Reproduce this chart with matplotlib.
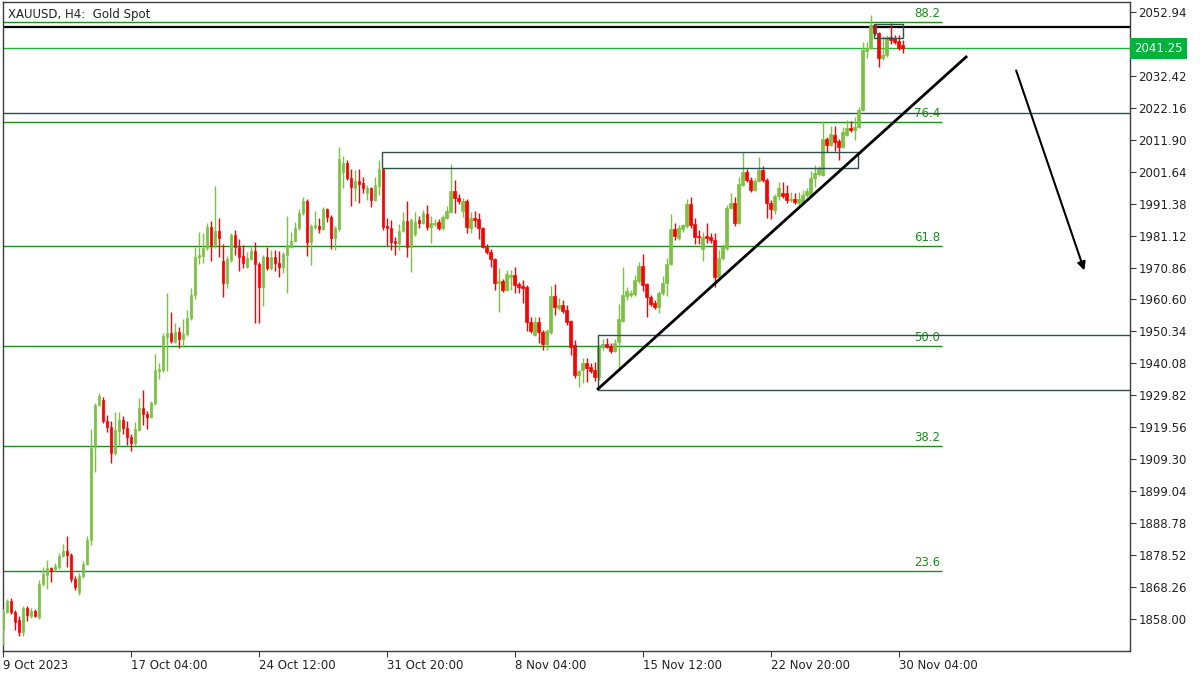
import matplotlib
matplotlib.use('Agg')
import matplotlib.pyplot as plt
import matplotlib.transforms as mtransforms
from matplotlib.patches import Rectangle

# XAUUSD H4 candles, 9 Oct - 30 Nov 2023
opens = [
    1854.5, 1860.3, 1863.8, 1860.3, 1857.7, 1853.8, 1861.5, 1859.0, 1860.6, 1858.7,
    1869.3, 1872.1, 1874.4, 1874.1, 1874.7, 1878.2, 1879.9, 1878.6, 1870.9, 1866.7,
    1871.8, 1875.7, 1883.4, 1913.2, 1926.7, 1928.3, 1921.6, 1919.7, 1911.3, 1918.4,
    1921.9, 1919.4, 1916.5, 1914.5, 1918.7, 1925.8, 1923.8, 1922.9, 1927.4, 1937.7,
    1938.0, 1948.6, 1949.9, 1947.0, 1950.2, 1947.9, 1949.5, 1954.7, 1962.1, 1974.3,
    1974.6, 1977.2, 1983.9, 1978.1, 1982.6, 1973.0, 1965.9, 1973.3, 1981.3, 1977.5,
    1974.6, 1971.1, 1973.6, 1976.2, 1972.0, 1964.6, 1974.3, 1970.7, 1974.3, 1972.3,
    1971.1, 1974.9, 1977.5, 1979.4, 1983.6, 1988.4, 1992.2, 1979.1, 1983.9, 1984.2,
    1983.3, 1989.7, 1987.1, 1980.4, 1983.3, 2001.6, 2004.5, 1999.6, 1996.4, 1998.7,
    1998.0, 1994.8, 1996.4, 1992.6, 1997.1, 2002.5, 1984.2, 1983.6, 1979.4, 1978.8,
    1982.6, 1985.8, 1977.5, 1981.7, 1986.1, 1985.2, 1988.1, 1983.9, 1984.9, 1985.5,
    1983.6, 1986.8, 1988.7, 1995.5, 1993.2, 1989.0, 1992.2, 1983.6, 1986.8, 1986.5,
    1983.6, 1977.5, 1975.9, 1973.6, 1965.9, 1966.6, 1963.7, 1967.8, 1968.5, 1965.6,
    1965.0, 1964.6, 1953.4, 1949.2, 1953.4, 1950.2, 1946.3, 1950.2, 1961.7, 1957.9,
    1958.9, 1957.2, 1953.7, 1946.0, 1936.4, 1938.0, 1940.2, 1938.9, 1938.0, 1935.7,
    1945.4, 1946.3, 1945.7, 1944.1, 1947.0, 1953.7, 1961.7, 1962.1, 1962.4, 1966.6,
    1971.4, 1965.6, 1961.4, 1959.5, 1958.2, 1962.7, 1965.9, 1972.0, 1983.3, 1980.4,
    1983.3, 1984.2, 1991.3, 1984.9, 1981.0, 1976.8, 1981.0, 1980.7, 1979.7, 1967.8,
    1973.9, 1977.2, 1990.0, 1991.6, 1985.2, 1997.4, 2001.6, 1999.0, 1995.8, 1998.7,
    2002.2, 1999.0, 1991.6, 1989.4, 1993.9, 1994.8, 1994.8, 1992.6, 1992.9, 1991.6,
    1991.9, 1994.2, 1994.2, 1999.6, 2000.9, 2000.6, 2012.2, 2010.2, 2013.4, 2011.5,
    2009.6, 2013.4, 2015.7, 2015.0, 2016.0, 2021.5, 2040.4, 2041.4, 2048.8, 2046.2,
    2038.2, 2039.1, 2044.9, 2044.6, 2043.6, 2042.3,
]
highs = [
    1861.2, 1864.4, 1864.8, 1860.9, 1859.0, 1862.2, 1862.2, 1861.5, 1861.2, 1870.5,
    1874.7, 1877.0, 1874.7, 1876.0, 1879.2, 1882.1, 1884.7, 1879.2, 1871.8, 1872.8,
    1876.6, 1884.7, 1919.0, 1927.4, 1930.6, 1929.3, 1923.5, 1921.6, 1924.5, 1924.5,
    1923.2, 1921.6, 1917.4, 1921.3, 1929.0, 1931.6, 1924.8, 1928.0, 1943.1, 1940.2,
    1949.9, 1962.7, 1956.6, 1953.1, 1951.8, 1954.4, 1957.2, 1964.3, 1977.5, 1982.3,
    1982.0, 1985.2, 1985.8, 1997.1, 1986.8, 1978.4, 1974.6, 1982.0, 1982.9, 1980.0,
    1978.1, 1975.9, 1978.1, 1979.1, 1972.7, 1974.9, 1977.5, 1976.5, 1976.5, 1976.2,
    1975.9, 1987.4, 1982.3, 1985.5, 1989.7, 1993.5, 1992.9, 1984.9, 1989.0, 1986.8,
    1990.3, 1990.0, 1987.8, 1984.2, 2009.6, 2006.7, 2005.4, 2002.5, 2002.2, 2002.5,
    2000.0, 1997.4, 1996.7, 2000.0, 2005.4, 2002.8, 1986.8, 1986.1, 1980.7, 1984.9,
    1988.7, 1992.2, 1986.8, 1988.7, 1987.4, 1989.4, 1991.0, 1987.4, 1986.5, 1986.5,
    1987.8, 1990.6, 2004.1, 1999.0, 1994.5, 1993.2, 1992.9, 1988.7, 1989.0, 1988.4,
    1983.9, 1978.4, 1976.8, 1973.9, 1970.7, 1967.2, 1970.1, 1970.1, 1971.1, 1966.2,
    1966.9, 1965.3, 1955.0, 1955.0, 1955.0, 1950.8, 1951.1, 1965.0, 1965.6, 1961.1,
    1960.5, 1958.9, 1954.0, 1947.6, 1938.0, 1941.8, 1941.8, 1940.2, 1940.5, 1946.0,
    1947.9, 1948.3, 1946.6, 1947.9, 1959.2, 1971.1, 1964.6, 1963.7, 1968.5, 1972.7,
    1975.2, 1965.9, 1962.1, 1960.5, 1963.3, 1968.2, 1973.9, 1988.1, 1985.2, 1984.5,
    1984.9, 1992.9, 1993.5, 1986.8, 1982.9, 1982.3, 1985.2, 1982.0, 1982.0, 1976.5,
    1978.4, 1991.0, 1994.8, 1993.5, 2000.0, 2008.0, 2002.5, 2000.0, 1999.6, 2006.4,
    2003.5, 1999.6, 1992.6, 1994.5, 1998.3, 1998.3, 1997.4, 1995.1, 1994.8, 1995.1,
    1995.8, 1996.4, 2001.9, 2003.8, 2003.5, 2017.9, 2012.8, 2016.3, 2016.3, 2012.2,
    2016.0, 2018.3, 2017.9, 2019.2, 2022.4, 2043.3, 2043.3, 2052.0, 2049.1, 2046.5,
    2045.2, 2045.6, 2049.4, 2045.6, 2045.6, 2044.0,
]
lows = [
    1849.7, 1859.9, 1859.6, 1854.5, 1852.6, 1852.6, 1857.4, 1858.3, 1858.7, 1858.0,
    1868.6, 1867.6, 1869.9, 1873.4, 1874.1, 1877.9, 1874.7, 1869.9, 1867.3, 1865.7,
    1871.2, 1875.4, 1881.8, 1905.2, 1926.4, 1921.0, 1918.1, 1908.1, 1910.7, 1913.9,
    1917.4, 1913.9, 1912.0, 1913.9, 1918.4, 1920.3, 1919.0, 1922.6, 1926.7, 1935.1,
    1937.3, 1937.7, 1946.6, 1946.6, 1945.0, 1945.4, 1948.9, 1954.0, 1960.8, 1972.0,
    1972.3, 1976.5, 1973.0, 1977.2, 1974.3, 1961.4, 1964.3, 1972.7, 1974.9, 1969.8,
    1970.7, 1970.7, 1973.3, 1953.1, 1953.1, 1958.5, 1970.1, 1970.1, 1969.8, 1967.8,
    1969.1, 1962.7, 1977.2, 1979.1, 1982.9, 1987.8, 1974.6, 1971.7, 1983.3, 1982.0,
    1982.9, 1985.5, 1976.8, 1976.5, 1982.6, 1996.4, 1999.0, 1990.6, 1992.2, 1991.6,
    1994.8, 1992.6, 1990.3, 1992.2, 1994.2, 1982.9, 1977.8, 1976.5, 1974.9, 1976.5,
    1982.3, 1974.3, 1969.4, 1981.0, 1983.6, 1984.9, 1982.9, 1978.8, 1984.2, 1982.9,
    1982.9, 1986.5, 1988.4, 1988.4, 1991.3, 1987.1, 1982.0, 1982.0, 1983.9, 1980.0,
    1977.2, 1975.2, 1971.1, 1963.7, 1956.6, 1963.0, 1963.3, 1963.7, 1962.7, 1962.7,
    1959.5, 1950.5, 1949.9, 1948.9, 1946.6, 1944.4, 1944.4, 1949.5, 1955.6, 1957.2,
    1956.3, 1952.4, 1942.8, 1935.4, 1932.5, 1933.8, 1934.1, 1937.0, 1934.4, 1934.8,
    1944.4, 1945.0, 1943.4, 1943.8, 1938.3, 1953.4, 1960.5, 1961.4, 1961.7, 1965.9,
    1963.3, 1955.0, 1958.5, 1957.6, 1956.3, 1962.1, 1961.7, 1971.7, 1979.7, 1979.7,
    1982.3, 1983.6, 1983.6, 1978.4, 1978.4, 1973.0, 1978.8, 1978.8, 1964.6, 1966.9,
    1973.3, 1976.5, 1989.7, 1984.2, 1984.9, 1997.1, 1998.3, 1995.1, 1995.5, 1998.3,
    1998.3, 1986.8, 1986.5, 1988.1, 1992.6, 1993.2, 1991.6, 1991.9, 1991.3, 1991.0,
    1991.3, 1993.5, 1993.5, 1996.7, 2000.3, 2000.3, 2008.0, 2009.9, 2008.3, 2005.4,
    2009.3, 2013.1, 2014.4, 2011.8, 2015.7, 2021.1, 2038.2, 2041.1, 2045.6, 2035.3,
    2037.5, 2038.5, 2042.7, 2042.7, 2040.7, 2039.8,
]
closes = [
    1860.3, 1863.8, 1860.3, 1857.0, 1853.8, 1861.5, 1859.3, 1860.6, 1859.0, 1869.3,
    1872.5, 1874.4, 1873.4, 1875.0, 1878.2, 1879.9, 1878.6, 1870.9, 1868.3, 1871.8,
    1875.7, 1883.4, 1912.9, 1926.7, 1929.6, 1921.6, 1919.7, 1911.3, 1918.7, 1921.9,
    1919.4, 1916.5, 1914.5, 1919.0, 1925.8, 1923.8, 1922.9, 1927.4, 1938.0, 1938.3,
    1948.9, 1949.9, 1947.3, 1950.2, 1947.9, 1949.5, 1954.7, 1962.1, 1974.3, 1974.9,
    1977.2, 1983.9, 1978.1, 1982.6, 1980.4, 1965.9, 1973.6, 1981.3, 1977.5, 1974.3,
    1972.3, 1973.9, 1976.2, 1972.0, 1964.6, 1974.3, 1970.7, 1974.3, 1972.3, 1971.1,
    1975.2, 1978.1, 1979.4, 1983.6, 1988.4, 1992.2, 1979.1, 1984.2, 1984.5, 1983.3,
    1989.7, 1987.1, 1980.4, 1983.6, 2005.7, 2004.5, 1999.6, 1996.7, 1998.7, 1997.7,
    1996.4, 1996.4, 1992.6, 1997.4, 2002.5, 1983.9, 1983.6, 1979.1, 1978.8, 1982.6,
    1985.8, 1977.5, 1986.1, 1985.5, 1985.2, 1988.4, 1983.9, 1985.2, 1985.2, 1983.6,
    1987.1, 1989.0, 1995.5, 1993.2, 1992.2, 1992.2, 1983.9, 1986.8, 1986.1, 1983.6,
    1977.5, 1975.9, 1973.6, 1965.9, 1966.6, 1963.7, 1968.8, 1968.5, 1965.3, 1964.6,
    1964.3, 1953.4, 1950.5, 1953.4, 1950.2, 1946.3, 1950.5, 1961.7, 1958.2, 1958.9,
    1956.9, 1953.4, 1945.4, 1936.4, 1937.7, 1940.2, 1938.6, 1937.7, 1935.7, 1945.4,
    1946.3, 1945.4, 1944.1, 1946.6, 1954.4, 1962.1, 1963.3, 1962.7, 1966.9, 1971.4,
    1965.3, 1961.4, 1959.2, 1958.2, 1962.7, 1965.9, 1972.0, 1983.3, 1981.0, 1983.6,
    1984.5, 1991.3, 1984.5, 1980.7, 1980.7, 1980.7, 1980.4, 1979.7, 1967.8, 1973.9,
    1977.5, 1990.0, 1991.6, 1985.2, 1997.7, 2001.6, 1999.0, 1995.8, 1998.7, 2002.2,
    1999.0, 1991.6, 1989.7, 1993.9, 1996.4, 1993.9, 1992.6, 1992.9, 1991.9, 1992.9,
    1994.2, 1995.5, 1999.6, 2001.2, 2002.8, 2012.2, 2010.2, 2013.8, 2011.2, 2009.6,
    2014.4, 2015.7, 2015.0, 2016.0, 2021.5, 2040.7, 2041.4, 2048.8, 2046.2, 2038.2,
    2039.1, 2044.9, 2044.0, 2043.3, 2041.4, 2041.25,
]

# fibonacci retracement levels
fib_labels = ['23.6', '38.2', '50.0', '61.8', '76.4', '88.2']
fib_prices = [1873.4, 1913.5, 1945.7, 1977.8, 2017.6, 2049.6]

# price scale and time scale labels
price_ticks = [2052.94, 2042.68, 2032.42, 2022.16, 2011.90, 2001.64, 1991.38, 1981.12,
               1970.86, 1960.60, 1950.34, 1940.08, 1929.82, 1919.56, 1909.30, 1899.04,
               1888.78, 1878.52, 1868.26, 1858.00]
time_ticks = [0, 32, 64, 96, 128, 160, 192, 224]
time_labels = ['9 Oct 2023', '17 Oct 04:00', '24 Oct 12:00', '31 Oct 20:00',
               '8 Nov 04:00', '15 Nov 12:00', '22 Nov 20:00', '30 Nov 04:00']

last_price = 2041.25

up_col = '#7dc142'
down_col = '#ff0000'
fib_col = '#1a8c1a'
box_col = '#2f4f4f'

fig = plt.figure(figsize=(12, 6.75), dpi=100)
ax = fig.add_axes([0.0025, 0.0356, 0.9392, 0.9607])
ax.set_xlim(0, 281.8)
ax.set_ylim(1847.7, 2056.0)

# candles
idx = list(range(len(closes)))
cols = [up_col if c >= o else down_col for o, c in zip(opens, closes)]
ax.vlines(idx, lows, highs, colors=cols, linewidth=1, zorder=3)
ax.bar(idx, [c - o for o, c in zip(opens, closes)], bottom=opens, width=0.72,
       color=cols, edgecolor=cols, linewidth=0.5, zorder=3)

# fibonacci
for lab, p in zip(fib_labels, fib_prices):
    ax.hlines(p, -5, 234.8, color=fib_col, linewidth=1, zorder=2)
    ax.annotate(lab, (227.8, p), xytext=(0, 1.5), textcoords='offset points',
                ha='left', va='bottom', color=fib_col, fontsize=8.5)

# horizontal lines across the chart
ax.axhline(2048.1, color='black', linewidth=1.6, zorder=2)
ax.axhline(last_price, color='#22b33e', linewidth=1, zorder=2)
ax.axhline(2020.5, color=box_col, linewidth=1, zorder=2)

# zones
ax.add_patch(Rectangle((94.8, 2002.8), 119.0, 5.2, fill=False, ec=box_col, lw=1, zorder=4))
ax.add_patch(Rectangle((148.8, 1931.6), 150, 17.6, fill=False, ec=box_col, lw=1, zorder=4))
ax.add_patch(Rectangle((217.8, 2044.6), 7.3, 4.5, fill=False, ec=box_col, lw=1, zorder=4))

# trendline and projection arrow
ax.plot([148.8, 240.8], [1931.9, 2038.5], color='black', linewidth=2, zorder=5)
ax.annotate('', xy=(270.6, 1969.1), xytext=(253.1, 2035.0),
            arrowprops=dict(arrowstyle='-|>', color='black', lw=1.5, mutation_scale=12))

# axes styling
for s in ax.spines.values():
    s.set_color('#3c3c3c')
    s.set_linewidth(1)
ax.yaxis.tick_right()
ax.set_yticks(price_ticks)
ax.set_yticklabels(['%.2f' % v for v in price_ticks])
ax.set_xticks(time_ticks)
ax.set_xticklabels(time_labels)
for lbl in ax.get_xticklabels():
    lbl.set_ha('left')
ax.tick_params(axis='both', direction='out', length=4, color='#3c3c3c',
               labelsize=8.5, labelcolor='#222222', pad=2)

# title
ax.text(0.004, 0.992, 'XAUUSD, H4:  Gold Spot', transform=ax.transAxes,
        ha='left', va='top', fontsize=8.5, color='#222222')

# current price tag (covers the 2042.68 scale label, as on the terminal)
tr = mtransforms.blended_transform_factory(ax.transAxes, ax.transData)
ax.text(1.0035, last_price, '%.2f' % last_price, transform=tr, ha='left', va='center',
        fontsize=8.5, color='white', clip_on=False, zorder=10,
        bbox=dict(boxstyle='square,pad=0.35', fc='#00b33c', ec='none'))

fig.savefig('out.png', dpi=100)
